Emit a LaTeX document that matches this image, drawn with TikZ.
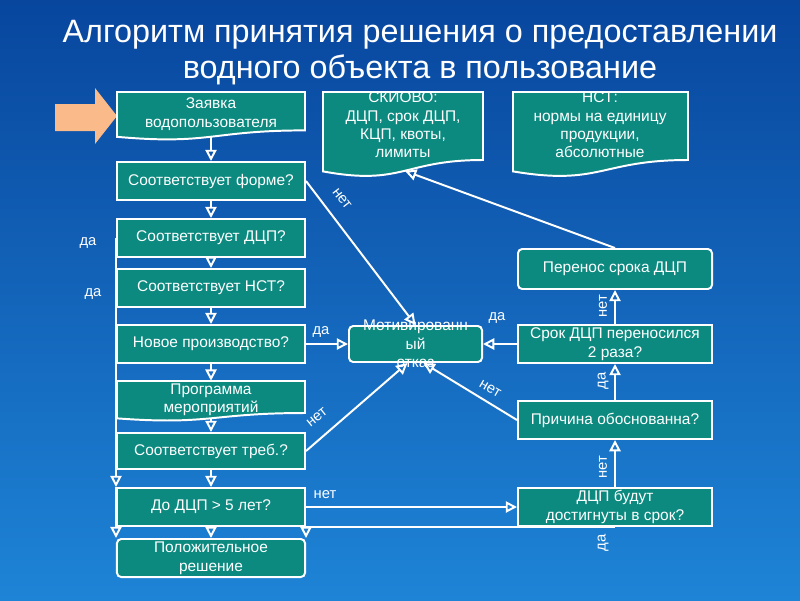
\documentclass[tikz,border=0pt]{standalone}
\usepackage{fontspec}
\setmainfont{Liberation Sans}
\usetikzlibrary{calc, arrows.meta}

\definecolor{bgtop}{RGB}{8,70,158}
\definecolor{bgbot}{RGB}{30,132,214}
\definecolor{boxteal}{RGB}{12,138,128}
\definecolor{pointer}{RGB}{250,186,138}

\tikzset{
  procbox/.style={draw=white, fill=boxteal, line width=1.4pt, text=white,
    minimum width=4.7cm, minimum height=0.95cm, inner sep=1pt, align=center,
    font=\fontsize{11}{13.5}\selectfont},
  rightbox/.style={procbox, minimum width=4.85cm},
  endbox/.style={procbox, rounded corners=3pt},
  doctext/.style={text=white, align=center, inner sep=1pt,
    font=\fontsize{11}{13}\selectfont},
  docbox/.style={draw=white, fill=boxteal, line width=1.4pt},
  flow/.style={draw=white, line width=1.4pt,
    -{Triangle[open, length=8pt, width=8pt]}},
  lbl/.style={text=white, inner sep=1pt, font=\fontsize{10.5}{12}\selectfont},
  heading/.style={text=white, align=center, font=\fontsize{23}{25.5}\selectfont}
}

% box with a wavy bottom: x1, y1 (top left), x2, y2 (bottom right)
\newcommand{\docpath}[4]{%
  \path[docbox] (#1,#2) -- (#3,#2) -- (#3,{#2+0.8*(#4-#2)})
    .. controls ({(#1+#3)/2},{#2+0.8*(#4-#2)}) and ({(#1+#3)/2},{#2+1.107*(#4-#2)})
    .. (#1,{#2+0.934*(#4-#2)}) -- cycle;}

\begin{document}
\begin{tikzpicture}[x=0.025cm, y=-0.025cm]
  \useasboundingbox (0,0) rectangle (800,600);
  \shade[top color=bgtop, bottom color=bgbot] (0,0) rectangle (800,600);

  \node[heading] (title) at (420,53)
    {Алгоритм принятия решения о предоставлении\\водного объекта в пользование};

  % pointer
  \fill[pointer] (55,104) -- (95,104) -- (95,88) -- (117,116) -- (95,144)
    -- (95,131) -- (55,131) -- cycle;

  % left column
  \docpath{117}{92}{305}{140}
  \node[doctext, minimum width=4.7cm, minimum height=1.1cm] (zayav) at (211,114)
    {Заявка\\водопользователя};
  \node[procbox] (forma) at (211,181) {Соответствует форме?};
  \node[procbox] (dcp) at (211,238) {Соответствует ДЦП?};
  \node[procbox] (nst) at (211,288) {Соответствует НСТ?};
  \node[procbox] (novoe) at (211,344) {Новое производство?};
  \docpath{117}{381}{305}{421}
  \node[doctext, minimum width=4.7cm, minimum height=0.925cm] (progr) at (211,399.5)
    {Программа\\мероприятий};
  \node[procbox, minimum height=0.9cm] (treb) at (211,451) {Соответствует треб.?};
  \node[procbox] (pyat) at (211,507) {До ДЦП > 5 лет?};
  \node[endbox] (poloj) at (211,558) {Положительное\\решение};

  % top boxes
  \docpath{323}{92}{483}{177}
  \node[doctext] (skiovo) at (403,125) {СКИОВО:\\ДЦП, срок ДЦП,\\КЦП, квоты,\\лимиты};
  \coordinate (skiovo-in) at (405,171);
  \docpath{513}{92}{688}{177}
  \node[doctext] (nstdef) at (600,125) {НСТ:\\нормы на единицу\\продукции,\\абсолютные};

  % right column
  \node[rightbox, rounded corners=3pt, minimum height=1cm] (perenos) at (615,269)
    {Перенос срока ДЦП};
  \node[rightbox] (srok) at (615,344) {Срок ДЦП переносился\\2 раза?};
  \node[rightbox] (prichina) at (615,420) {Причина обоснованна?};
  \node[rightbox] (ddb) at (615,507) {ДЦП будут\\достигнуты в срок?};

  % refusal
  \node[procbox, rounded corners=3pt, minimum width=3.325cm, minimum height=0.9cm]
    (motiv) at (415.5,344) {};
  \node[doctext] (motivtext) at (motiv.center) {Мотивированн\\ый\\отказ};

  % main chain
  \draw[flow] (zayav.south) -- (forma.north);
  \draw[flow] (forma.south) -- (dcp.north);
  \draw[flow] (dcp.south) -- (nst.north);
  \draw[flow] (nst.south) -- (novoe.north);
  \draw[flow] (novoe.south) -- (progr.north);
  \draw[flow] (progr.south) -- (treb.north);
  \draw[flow] (treb.south) -- (pyat.north);
  \draw[flow] (pyat.south) -- (poloj.north);
  \draw[flow] (dcp.west) -- (pyat.north west);
  \draw[flow] (pyat.north west) -- (poloj.north west);
  \node[lbl] (da1) at (88,243) {да};
  \node[lbl] (da2) at (93,294) {да};

  % into the refusal
  \draw[flow] (forma.east) -- (motiv.north);
  \draw[flow] (novoe.east) -- (motiv.west);
  \draw[flow] (treb.east) -- ($(motiv.south)+(-8,0)$);
  \draw[flow] (prichina.west) -- ($(motiv.south)+(8,0)$);
  \draw[flow] (srok.west) -- (motiv.east);
  \node[lbl, rotate=-52] (net1) at (342,199) {нет};
  \node[lbl] (da3) at (321,332) {да};
  \node[lbl, rotate=39] (net2) at (317,417) {нет};
  \node[lbl, rotate=-30] (net3) at (490,389) {нет};
  \node[lbl] (da4) at (497,318) {да};

  % right chain
  \draw[flow] (pyat.east) -- (ddb.west);
  \draw[flow] (ddb.north) -- (prichina.south);
  \draw[flow] (prichina.north) -- (srok.south);
  \draw[flow] (srok.north) -- (perenos.south);
  \draw[flow] (perenos.north) -- (skiovo-in);
  \draw[flow] (ddb.south) -| (poloj.north east);
  \node[lbl] (net4) at (325,495) {нет};
  \node[lbl, rotate=90] (net5) at (603,306) {нет};
  \node[lbl, rotate=90] (da5) at (603,381) {да};
  \node[lbl, rotate=90] (net6) at (603,467) {нет};
  \node[lbl, rotate=90] (da6) at (603,543) {да};
\end{tikzpicture}
\end{document}
